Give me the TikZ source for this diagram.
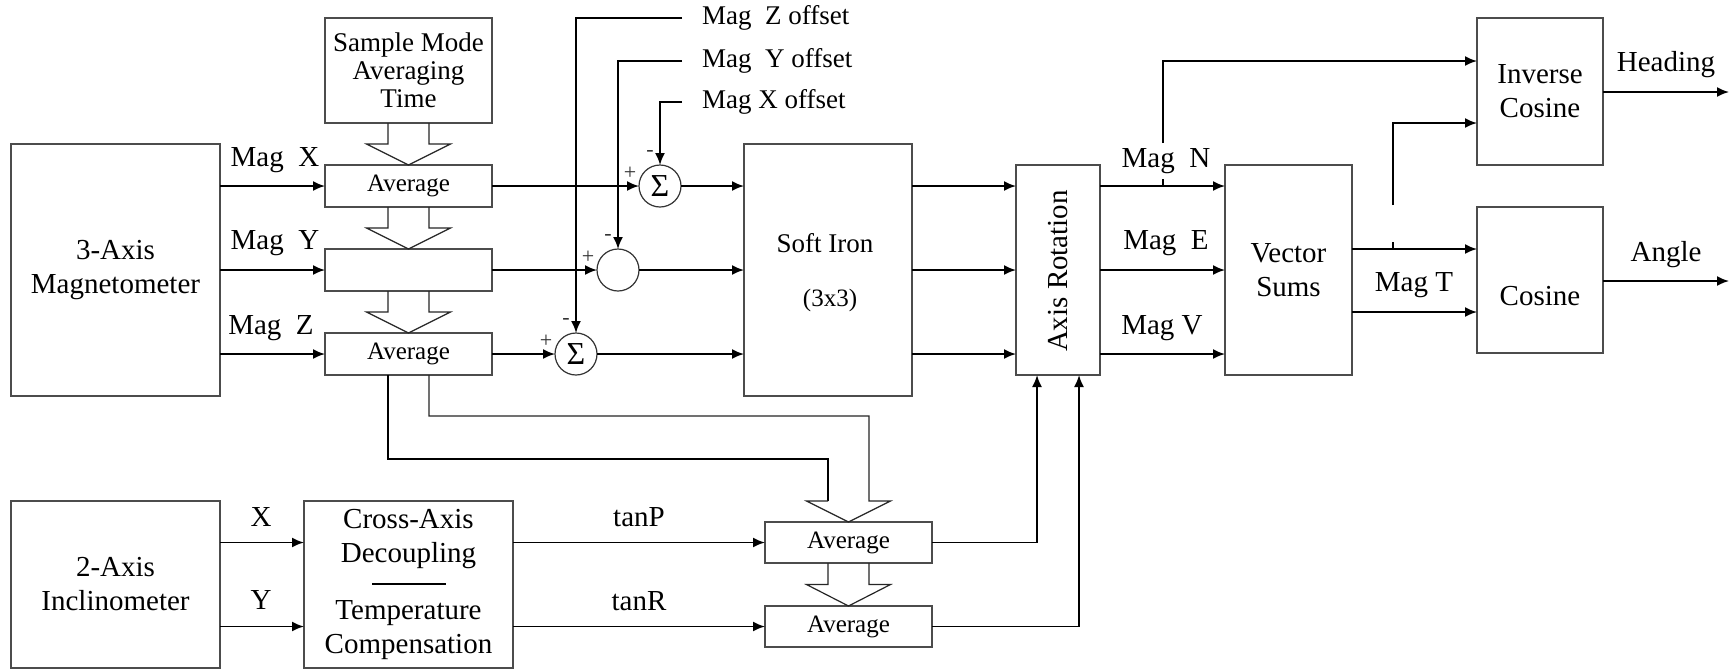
\documentclass[tikz,border=0pt]{standalone}
\usepackage{fontspec}
\setmainfont{Liberation Serif}
\usetikzlibrary{calc,arrows.meta}
\newcommand\bigf{\fontsize{29}{34}\selectfont}
\newcommand\medf{\fontsize{27}{28}\selectfont}
\newcommand\avgf{\fontsize{25}{28}\selectfont}
\newcommand\sigf{\fontsize{32}{34}\selectfont}
\newcommand\sgnf{\fontsize{22}{24}\selectfont}
\newcommand\HArrow[2]{%
  \path (#1) coordinate (ha1) (#2) coordinate (ha2);
  \draw[harr] ($(ha1)+(-20.5,0)$) -- ($(ha1)!.5!(ha2)+(-20.5,0)$) -- ($(ha1)!.5!(ha2)+(-42,0)$)
    -- (ha2) -- ($(ha1)!.5!(ha2)+(42,0)$) -- ($(ha1)!.5!(ha2)+(20.5,0)$) -- ($(ha1)+(20.5,0)$);}
\begin{document}
\begin{tikzpicture}[x=1pt,y=-1pt,
  box/.style={draw=black!70, line width=1.2pt, inner sep=0pt, outer sep=0pt, align=center, font=\bigf},
  conn/.style={line width=1.8pt, -{Latex[length=12pt,width=10pt]}},
  wire/.style={line width=1.8pt},
  harr/.style={draw=black!85, line width=1.2pt},
  lbl/.style={font=\bigf, inner sep=0pt},
  sumc/.style={circle, draw=black!80, line width=1.2pt, minimum size=42pt, inner sep=0pt, outer sep=0pt, font=\sigf},
  sgn/.style={font=\sgnf, inner sep=0pt, text=black!80}]
\useasboundingbox[fill=white] (0,0) rectangle (1730,670);

% ---- boxes
\node[box, minimum width=209pt, minimum height=252pt] (mag3) at (115.5,270) {3-Axis\\Magnetometer};
\node[box, minimum width=209pt, minimum height=167pt] (incl) at (115.5,584.5) {2-Axis\\Inclinometer};
\node[box, minimum width=167pt, minimum height=105pt, font=\medf] (sample) at (408.5,70.5) {Sample Mode\\Averaging\\Time};
\node[box, minimum width=167pt, minimum height=42pt, font=\avgf] (avgX) at (408.5,186) {Average};
\node[box, minimum width=167pt, minimum height=42pt, font=\avgf] (avgY) at (408.5,270) {};
\node[box, minimum width=167pt, minimum height=42pt, font=\avgf] (avgZ) at (408.5,354) {Average};
\node[sumc] (sumX) at (660,186) {Σ};
\node[sumc] (sumY) at (618,270) {};
\node[sumc] (sumZ) at (576,354) {Σ};
\node[box, minimum width=168pt, minimum height=252pt] (soft) at (828,270) {};
\node[lbl, font=\medf] (softA) at (825,243) {Soft Iron};
\node[lbl, font=\avgf] (softB) at (830,300) {(3x3)};
\node[box, minimum width=84pt, minimum height=210pt] (axis) at (1058,270) {};
\node[lbl, rotate=90] (axisT) at (1058,271) {Axis Rotation};
\node[box, minimum width=127pt, minimum height=210pt] (vec) at (1288.5,270) {Vector\\Sums};
\node[box, minimum width=126pt, minimum height=147pt] (inv) at (1540,91.5) {Inverse\\Cosine};
\node[box, minimum width=126pt, minimum height=146pt] (cos) at (1540,280) {};
\node[lbl] (cosT) at (1540,296) {Cosine};
\node[box, minimum width=209pt, minimum height=167pt] (cross) at (408.5,584.5) {};
\node[lbl, align=center] (crossA) at (408.5,539) {Cross-Axis\\Decoupling};
\node[lbl, align=center] (crossB) at (408.5,630) {Temperature\\Compensation};
\coordinate (rl) at (372,584);
\coordinate (rr) at (446,584);
\draw[line width=2pt] (rl) -- (rr);
\node[box, minimum width=167pt, minimum height=41pt, font=\avgf] (avgP) at (848.5,542.5) {Average};
\node[box, minimum width=167pt, minimum height=41pt, font=\avgf] (avgR) at (848.5,626.5) {Average};

% ---- hollow arrows
\HArrow{sample.south}{avgX.north}
\HArrow{avgX.south}{avgY.north}
\HArrow{avgY.south}{avgZ.north}
\HArrow{avgP.south}{avgR.north}
\draw[wire] ($(avgZ.south)+(-20.5,0)$) |- ($(avgP.north)+(-20.5,-63)$) -- ($(avgP.north)+(-20.5,-21)$);
\draw[harr] ($(avgZ.south)+(20.5,0)$) |- ($(avgP.north)+(20.5,-106)$) -- ($(avgP.north)+(20.5,-21)$)
  -- ($(avgP.north)+(42,-21)$) -- (avgP.north) -- ($(avgP.north)+(-42,-21)$) -- ($(avgP.north)+(-20.5,-21)$);

% ---- magnetometer inputs
\draw[conn] (mag3.east |- avgX.west) -- (avgX.west);
\draw[conn] (mag3.east |- avgY.west) -- (avgY.west);
\draw[conn] (mag3.east |- avgZ.west) -- (avgZ.west);
\node[lbl] (lMX) at (275,160) {Mag\ \ X};
\node[lbl] (lMY) at (275,243) {Mag\ \ Y};
\node[lbl] (lMZ) at (271,328) {Mag\ \ Z};

% ---- offsets
\node[lbl, font=\medf, anchor=west, inner xsep=20pt] (offZ) at (682,18) {Mag\ \ Z offset};
\node[lbl, font=\medf, anchor=west, inner xsep=20pt] (offY) at (682,61) {Mag\ \ Y offset};
\node[lbl, font=\medf, anchor=west, inner xsep=20pt] (offX) at (682,102) {Mag X offset};
\draw[conn] (offZ.west) -| (sumZ.north);
\draw[conn] (offY.west) -| (sumY.north);
\draw[conn] (offX.west) -| (sumX.north);

\draw[conn] (avgX.east) -- (sumX.west);
\draw[conn] (avgY.east) -- (sumY.west);
\draw[conn] (avgZ.east) -- (sumZ.west);
\foreach \s in {sumX,sumY,sumZ}{
  \node[sgn] (p\s) at ($(\s)+(-30,-13)$) {+};
  \node[sgn] (m\s) at ($(\s)+(-10,-33)$) {-};
}
\draw[conn] (sumX.east) -- (soft.west |- sumX.east);
\draw[conn] (sumY.east) -- (soft.west |- sumY.east);
\draw[conn] (sumZ.east) -- (soft.west |- sumZ.east);

% ---- soft iron to axis rotation to vector sums
\draw[conn] (soft.east |- avgX.east) -- (axis.west |- avgX.east);
\draw[conn] (soft.east |- avgY.east) -- (axis.west |- avgY.east);
\draw[conn] (soft.east |- avgZ.east) -- (axis.west |- avgZ.east);
\draw[conn] (axis.east |- avgX.east) -- (vec.west |- avgX.east);
\draw[conn] (axis.east |- avgY.east) -- (vec.west |- avgY.east);
\draw[conn] (axis.east |- avgZ.east) -- (vec.west |- avgZ.east);
\node[lbl, inner ysep=5pt] (magN) at (1166,161) {Mag\ \ N};
\node[lbl] (magE) at (1166,243) {Mag\ \ E};
\node[lbl] (magV) at (1162,328) {Mag V};

\coordinate (jN) at (1163,186);
\draw[wire] (jN) -- (jN |- magN.south);
\draw[conn] (jN |- magN.north) |- ($(inv.west)+(0,-30.5)$);

% ---- vector sums outputs
\coordinate (vT1) at ($(vec.east)+(0,-21)$);
\coordinate (vT2) at ($(vec.east)+(0,42)$);
\draw[conn] (vT1) -- (cos.west |- vT1);
\draw[conn] (vT2) -- (cos.west |- vT2);
\coordinate (jT) at ($(vT1)+(41,0)$);
\coordinate (jTtop) at ($(jT)+(0,-44)$);
\draw[wire] (jT) -- ++(0,-7);
\draw[conn] (jTtop) |- ($(inv.west)+(0,31.5)$);
\node[lbl] (magT) at (1414,285) {Mag T};

% ---- outputs
\coordinate (hEnd) at (1729,92);
\draw[conn] (inv.east |- hEnd) -- (hEnd);
\node[lbl] (head) at (1666,65) {Heading};
\coordinate (aEnd) at (1729,281);
\draw[conn] (cos.east |- aEnd) -- (aEnd);
\node[lbl] (ang) at (1666,255) {Angle};

% ---- inclinometer chain
\draw[conn] (incl.east |- avgP.west) -- (cross.west |- avgP.west);
\draw[conn] (incl.east |- avgR.west) -- (cross.west |- avgR.west);
\node[lbl] (lx) at (261,517) {X};
\node[lbl] (ly) at (261,600) {Y};
\draw[conn] (cross.east |- avgP.west) -- (avgP.west);
\draw[conn] (cross.east |- avgR.west) -- (avgR.west);
\node[lbl] (tP) at (639,517) {tanP};
\node[lbl] (tR) at (639,601) {tanR};
\draw[conn] (avgP.east) -| ($(axis.south)+(-21,0)$);
\draw[conn] (avgR.east) -| ($(axis.south)+(21,0)$);
\end{tikzpicture}
\end{document}
